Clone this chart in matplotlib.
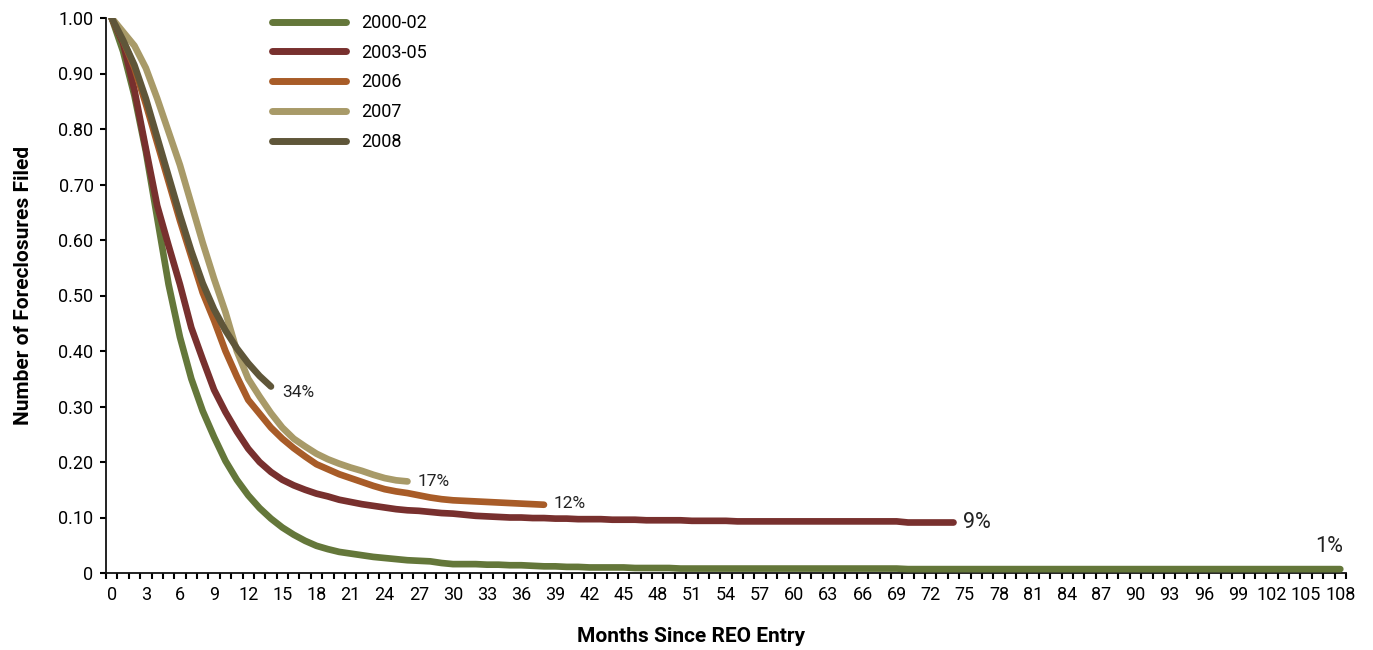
import matplotlib
matplotlib.use("Agg")
import matplotlib.pyplot as plt
from matplotlib.ticker import FixedLocator

plt.rcParams['font.family'] = ['Roboto', 'DejaVu Sans']

series_names = ["2000-02", "2003-05", "2006", "2007", "2008"]
series_colors = ["#64773a", "#78302e", "#a85c28", "#a89a68", "#5f5639"]

v_2000_02 = [
    1.000, 0.940, 0.860, 0.760, 0.640, 0.520, 0.425, 0.350, 0.292, 0.245,
    0.202, 0.168, 0.140, 0.117, 0.098, 0.082, 0.069, 0.058, 0.049, 0.043,
    0.038, 0.035, 0.032, 0.029, 0.027, 0.025, 0.023, 0.022, 0.021, 0.018,
    0.016, 0.016, 0.016, 0.015, 0.015, 0.014, 0.014, 0.013, 0.012, 0.012,
    0.011, 0.011, 0.010, 0.010, 0.010, 0.010, 0.009, 0.009, 0.009, 0.009,
    0.008, 0.008, 0.008, 0.008, 0.008, 0.008, 0.008, 0.008, 0.008, 0.008,
    0.008, 0.008, 0.008, 0.008, 0.008, 0.008, 0.008, 0.008, 0.008, 0.008,
    0.007, 0.007, 0.007, 0.007, 0.007, 0.007, 0.007, 0.007, 0.007, 0.007,
    0.007, 0.007, 0.007, 0.007, 0.007, 0.007, 0.007, 0.007, 0.007, 0.007,
    0.007, 0.007, 0.007, 0.007, 0.007, 0.007, 0.007, 0.007, 0.007, 0.007,
    0.007, 0.007, 0.007, 0.007, 0.007, 0.007, 0.007, 0.007, 0.007,
]
v_2003_05 = [
    1.000, 0.955, 0.870, 0.765, 0.662, 0.590, 0.520, 0.442, 0.385, 0.330,
    0.290, 0.255, 0.224, 0.200, 0.182, 0.168, 0.158, 0.150, 0.143, 0.138,
    0.132, 0.128, 0.124, 0.121, 0.118, 0.115, 0.113, 0.112, 0.110, 0.108,
    0.107, 0.105, 0.103, 0.102, 0.101, 0.100, 0.100, 0.099, 0.099, 0.098,
    0.098, 0.097, 0.097, 0.097, 0.096, 0.096, 0.096, 0.095, 0.095, 0.095,
    0.095, 0.094, 0.094, 0.094, 0.094, 0.093, 0.093, 0.093, 0.093, 0.093,
    0.093, 0.093, 0.093, 0.093, 0.093, 0.093, 0.093, 0.093, 0.093, 0.093,
    0.091, 0.091, 0.091, 0.091, 0.091,
]
v_2006 = [
    1.000, 0.960, 0.910, 0.845, 0.775, 0.705, 0.635, 0.570, 0.505, 0.455,
    0.400, 0.354, 0.312, 0.287, 0.262, 0.242, 0.225, 0.210, 0.196, 0.187,
    0.178, 0.171, 0.164, 0.157, 0.151, 0.147, 0.144, 0.140, 0.136, 0.133,
    0.131, 0.130, 0.129, 0.128, 0.127, 0.126, 0.125, 0.124, 0.123,
]
v_2007 = [
    1.000, 0.975, 0.950, 0.910, 0.855, 0.795, 0.735, 0.665, 0.595, 0.530,
    0.470, 0.400, 0.350, 0.318, 0.288, 0.262, 0.242, 0.228, 0.215, 0.205,
    0.197, 0.190, 0.184, 0.177, 0.171, 0.167, 0.165,
]
v_2008 = [
    1.000, 0.960, 0.915, 0.855, 0.785, 0.715, 0.645, 0.580, 0.522, 0.475,
    0.437, 0.405, 0.378, 0.355, 0.336,
]
series_values = [v_2000_02, v_2003_05, v_2006, v_2007, v_2008]
end_labels = ["1%", "9%", "12%", "17%", "34%"]

x_tick_labels = [str(m) for m in range(0, 109, 3)]
y_tick_values = [0, 0.1, 0.2, 0.3, 0.4, 0.5, 0.6, 0.7, 0.8, 0.9, 1.0]
y_tick_labels = ["0", "0.10", "0.20", "0.30", "0.40", "0.50", "0.60",
                 "0.70", "0.80", "0.90", "1.00"]

fig = plt.figure(figsize=(13.73, 6.5), dpi=100)
ax = fig.add_axes([106 / 1373, 1 - 573 / 650, (1346 - 106) / 1373, (573 - 18) / 650])

for name, vals, col in zip(series_names, series_values, series_colors):
    ax.plot(range(len(vals)), vals, color=col, lw=4.8, label=name,
            solid_capstyle='round', solid_joinstyle='round', zorder=3)

# end labels
label_offsets = [(-18, 16), (7, 0), (7, 1), (7, 0), (8, -4)]
label_sizes = [15.5, 15.5, 12.5, 12.5, 12.5]
for vals, txt, off, fs in zip(series_values, end_labels, label_offsets, label_sizes):
    ax.annotate(txt, xy=(len(vals) - 1, vals[-1]), xytext=off,
                textcoords='offset points', ha='left', va='center',
                fontsize=fs, color='#222222')

ax.set_xlim(-0.5, 108.5)
ax.set_ylim(0, 1.0)
ax.set_xticks(list(range(0, 109, 3)))
ax.set_xticklabels(x_tick_labels)
ax.xaxis.set_minor_locator(FixedLocator([m + 0.5 for m in range(-1, 109)]))
ax.tick_params(axis='x', which='major', length=0, pad=9, labelsize=13)
ax.tick_params(axis='x', which='minor', length=4, width=1.5, direction='out')
ax.set_yticks(y_tick_values)
ax.set_yticklabels(y_tick_labels)
ax.tick_params(axis='y', which='major', length=4, width=1.5, direction='out',
               pad=5, labelsize=13)

for s in ['top', 'right']:
    ax.spines[s].set_visible(False)
for s in ['left', 'bottom']:
    ax.spines[s].set_linewidth(1.3)
    ax.spines[s].set_color('#111111')

ax.set_xlabel("Months Since REO Entry", fontsize=15, fontweight='bold')
ax.set_ylabel("Number of Foreclosures Filed", fontsize=15, fontweight='bold')
ax.xaxis.set_label_coords(0.472, -0.097, transform=ax.transAxes)
ax.yaxis.set_label_coords(-0.059, 0.518, transform=ax.transAxes)

leg = ax.legend(loc='upper left', bbox_to_anchor=(272 / 1373, 1 - 14 / 650),
                bbox_transform=fig.transFigure, frameon=False, fontsize=13,
                handlelength=4.1, handletextpad=0.85, labelspacing=0.65,
                borderpad=0, borderaxespad=0)
for h in leg.get_lines():
    h.set_linewidth(5)
    h.set_solid_capstyle('round')

fig.savefig("out.png", dpi=100)
